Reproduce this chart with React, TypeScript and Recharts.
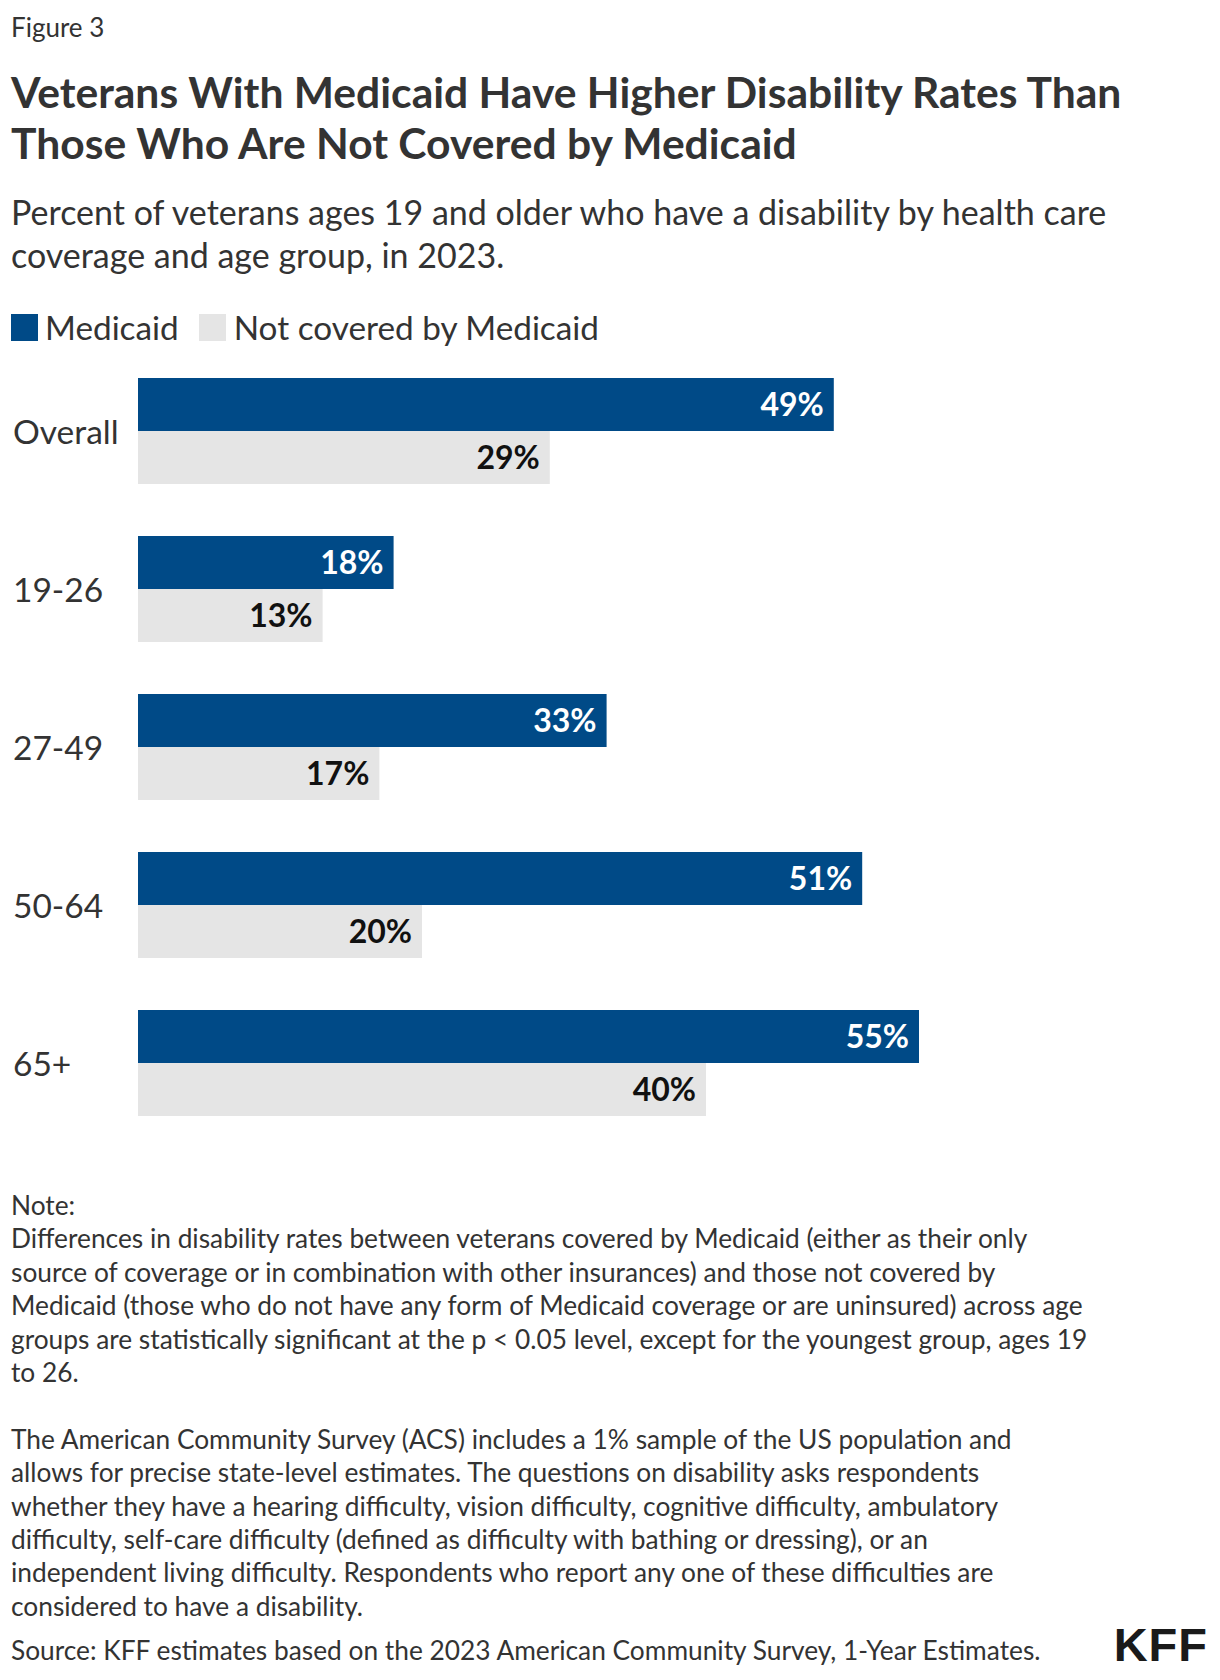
import React from 'react';
import { BarChart, Bar, XAxis, YAxis, LabelList } from 'recharts';

// age groups and disability rates (%)
const groups = ['Overall', '19-26', '27-49', '50-64', '65+'];
const medicaid = [49, 18, 33, 51, 55];
const notCovered = [29, 13, 17, 20, 40];

const noteLines = [
  'Note:',
  'Differences in disability rates between veterans covered by Medicaid (either as their only',
  'source of coverage or in combination with other insurances) and those not covered by',
  'Medicaid (those who do not have any form of Medicaid coverage or are uninsured) across age',
  'groups are statistically significant at the p < 0.05 level, except for the youngest group, ages 19',
  'to 26.',
  '',
  'The American Community Survey (ACS) includes a 1% sample of the US population and',
  'allows for precise state-level estimates. The questions on disability asks respondents',
  'whether they have a hearing difficulty, vision difficulty, cognitive difficulty, ambulatory',
  'difficulty, self-care difficulty (defined as difficulty with bathing or dressing), or an',
  'independent living difficulty. Respondents who report any one of these difficulties are',
  'considered to have a disability.',
];

const BLUE = '#004a87';
const GRAY = '#e5e5e5';
const TEXT = '#333333';
const FONT = 'Lato, "Noto Sans", sans-serif';

const data = groups.map((g, i) => ({
  group: g,
  medicaid: medicaid[i],
  notCovered: notCovered[i],
}));

function GroupTick(props: any) {
  const { y, payload } = props;
  return (
    <text x={13} y={y} dy={13} textAnchor="start" fill={TEXT} fontSize={33.5} fontFamily={FONT}>
      {payload.value}
    </text>
  );
}

const pct = (v: any) => `${v}%`;

export default function App() {
  return (
    <div style={{ position: 'relative', width: 1220, height: 1680, fontFamily: FONT, color: TEXT, background: '#fff' }}>
      <style>{'body{margin:0}'}</style>

      <div style={{ position: 'absolute', left: 11, top: 12, fontSize: 26, lineHeight: '30px' }}>Figure 3</div>

      <div style={{ position: 'absolute', left: 11, top: 66, fontSize: 42.6, lineHeight: '51px', fontWeight: 700, whiteSpace: 'nowrap' }}>
        <div>Veterans With Medicaid Have Higher Disability Rates Than</div>
        <div>Those Who Are Not Covered by Medicaid</div>
      </div>

      <div style={{ position: 'absolute', left: 11, top: 190, fontSize: 34, lineHeight: '43px', whiteSpace: 'nowrap' }}>
        <div>Percent of veterans ages 19 and older who have a disability by health care</div>
        <div>coverage and age group, in 2023.</div>
      </div>

      <div style={{ position: 'absolute', left: 11, top: 307, height: 40, display: 'flex', alignItems: 'center', fontSize: 33.3, whiteSpace: 'nowrap' }}>
        <span style={{ width: 27, height: 27, background: BLUE, display: 'inline-block', marginRight: 7 }} />
        <span>Medicaid</span>
        <span style={{ width: 27, height: 27, background: GRAY, display: 'inline-block', marginLeft: 20, marginRight: 8 }} />
        <span>Not covered by Medicaid</span>
      </div>

      <div style={{ position: 'absolute', left: 0, top: 0 }}>
        <BarChart
          layout="vertical"
          width={1220}
          height={1142}
          data={data}
          margin={{ top: 352, right: 230, bottom: 0, left: 0 }}
          barGap={0}
        >
          <XAxis type="number" domain={[0, 60]} hide />
          <YAxis
            type="category"
            dataKey="group"
            width={138}
            axisLine={false}
            tickLine={false}
            tick={<GroupTick />}
            interval={0}
          />
          <Bar dataKey="medicaid" fill={BLUE} barSize={53} isAnimationActive={false}>
            <LabelList
              dataKey="medicaid"
              position="insideRight"
              offset={10}
              formatter={pct}
              fill="#ffffff"
              fontSize={32}
              fontWeight={700}
              fontFamily={FONT}
            />
          </Bar>
          <Bar dataKey="notCovered" fill={GRAY} barSize={53} isAnimationActive={false}>
            <LabelList
              dataKey="notCovered"
              position="insideRight"
              offset={10}
              formatter={pct}
              fill="#111111"
              fontSize={32}
              fontWeight={700}
              fontFamily={FONT}
            />
          </Bar>
        </BarChart>
      </div>

      <div style={{ position: 'absolute', left: 11, top: 1189, fontSize: 26.3, lineHeight: '33.4px', whiteSpace: 'pre' }}>
        {noteLines.map((l, i) => (
          <div key={i} style={{ height: 33.4 }}>{l}</div>
        ))}
      </div>

      <div style={{ position: 'absolute', left: 11, top: 1634, fontSize: 26.3, lineHeight: '33.4px', whiteSpace: 'nowrap' }}>
        Source: KFF estimates based on the 2023 American Community Survey, 1-Year Estimates.
      </div>

      <div
        style={{
          position: 'absolute',
          right: 12,
          top: 1618,
          fontFamily: '"Liberation Sans", Arial, sans-serif',
          fontWeight: 700,
          fontSize: 47,
          lineHeight: '54px',
          color: '#1a1a1a',
          letterSpacing: 1,
        }}
      >
        KFF
      </div>
    </div>
  );
}
